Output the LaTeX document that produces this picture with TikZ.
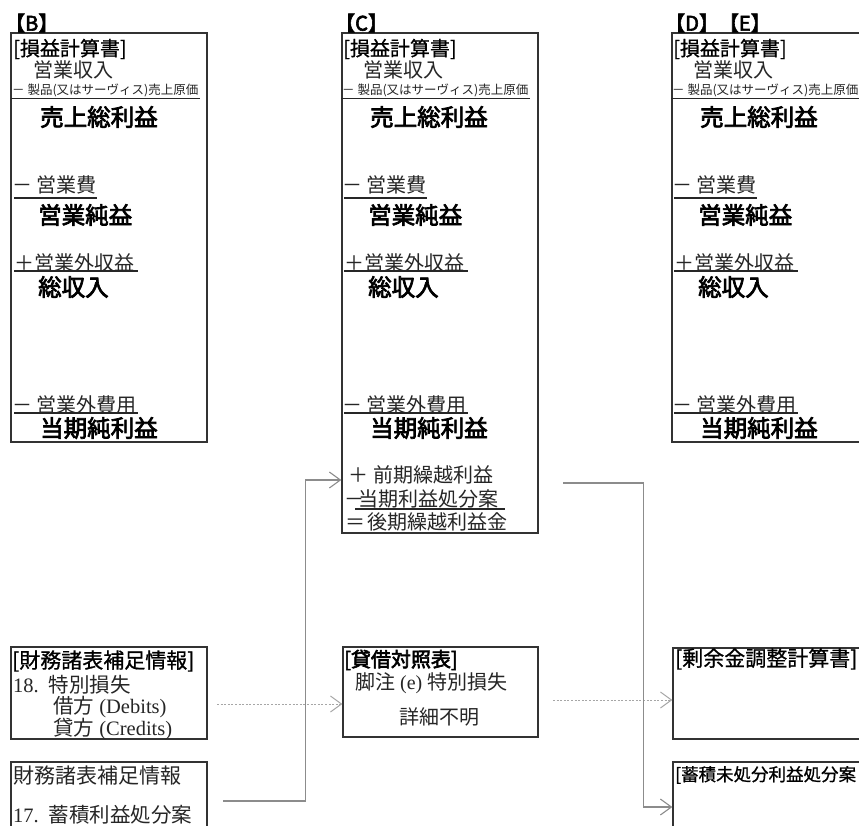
\documentclass[tikz,border=0pt]{standalone}
\usepackage{fontspec}
\setmainfont{Liberation Serif}
\newfontfamily\jp{Noto Sans CJK JP}
\newfontfamily\jpb{Noto Sans CJK JP}[FakeBold=3]
\newfontfamily\jpm{Noto Sans CJK JP}[FakeBold=0.8]
\usetikzlibrary{arrows.meta,calc}
\begin{document}
\begin{tikzpicture}[x=1pt,y=-1pt,
  frame/.style={draw=black!80, line width=1.4pt, rectangle, inner sep=0pt},
  txt/.style={anchor=west, inner sep=0pt, text=black!85, font=\jp\fontsize{20}{24}\selectfont},
  big/.style={txt, text=black, font=\jpb\fontsize{23.5}{28}\selectfont},
  head/.style={txt, text=black, font=\jpm\fontsize{20}{24}\selectfont},
  smalltxt/.style={txt, font=\jp\fontsize{12.5}{15}\selectfont},
  ul/.style={draw=black!85, line width=1.8pt},
  ulthin/.style={draw=black!85, line width=0.9pt},
  conn/.style={draw=black!45, line width=1.1pt, -{Straight Barb[length=11pt,width=16pt,line width=1.1pt]}},
  dconn/.style={draw=black!35, line width=1pt, dash pattern=on 2pt off 1.6pt, -{Straight Barb[length=11pt,width=16pt,line width=1pt]}}
]
\clip (0,0) rectangle (859,826);
\fill[white] (0,0) rectangle (859,826);

% frames
\node[frame, minimum width=196pt, minimum height=409pt] (boxB) at (109,237.5) {};
\node[frame, minimum width=196pt, minimum height=500pt] (boxC) at (440,283) {};
\node[frame, minimum width=196pt, minimum height=409pt] (boxD) at (770,237.5) {};
\node[frame, minimum width=196pt, minimum height=92pt] (boxF1) at (109,693) {};
\node[frame, minimum width=196pt, minimum height=98pt] (boxF2) at (109,811) {};
\node[frame, minimum width=195pt, minimum height=90pt] (boxBS) at (440.5,692) {};
\node[frame, minimum width=197pt, minimum height=91pt] (boxR1) at (771.5,693.5) {};
\node[frame, minimum width=197pt, minimum height=98pt] (boxR2) at (771.5,811) {};

% income statements
\foreach \dx/\p/\lab in {0/B/{【B】}, 330/C/{【C】}, 660/D/{【D】【E】}}{
  \node[head, font=\jpb\fontsize{20}{24}\selectfont] (\p-lab) at (\dx+5,23) {\lab};
  \node[head] (\p-title) at (\dx+13,49) {[損益計算書]};
  \node[txt] (\p-rev) at (\dx+33,70) {営業収入};
  \node[smalltxt] (\p-cogs) at (\dx+12,90) {－ 製品(又はサーヴィス)売上原価};
  \draw[ulthin] (\dx+11,98) -- (\dx+200,98);
  \node[big] (\p-gross) at (\dx+40,117) {売上総利益};
  \node[txt] (\p-opex) at (\dx+12,185) {－\hspace{4pt}営業費};
  \draw[ul] (\dx+14,198) -- (\dx+97,198);
  \node[big] (\p-opinc) at (\dx+38,215) {営業純益};
  \node[txt] (\p-nonrev) at (\dx+14,263) {＋営業外収益};
  \draw[ul] (\dx+14,271) -- (\dx+138,271);
  \node[big] (\p-total) at (\dx+38,287) {総収入};
  \node[txt] (\p-nonexp) at (\dx+12,405) {－\hspace{4pt}営業外費用};
  \draw[ul] (\dx+14,413) -- (\dx+138,413);
  \node[big] (\p-net) at (\dx+40,428) {当期純利益};
}

% extra lines of C
\node[txt] (C-carry) at (348,475) {＋\hspace{5pt}前期繰越利益};
\node[txt] (C-appr) at (344,499) {－\hspace{-6pt}当期利益処分案};
\draw[ul] (355,509) -- (505,509);
\node[txt] (C-ret) at (345,522) {＝\hspace{2pt}後期繰越利益金};

% supplementary info boxes
\node[head, font=\jpm\fontsize{21}{25}\selectfont] (F1-title) at (12,661) {[財務諸表補足情報]};
\node[txt, font=\fontsize{20.5}{24}\selectfont] (F1-a) at (13,685) {18.\hspace{10pt}{\jp 特別損失}};
\node[txt, font=\fontsize{20.5}{24}\selectfont] (F1-b) at (53,707) {{\jp 借方} (Debits)};
\node[txt, font=\fontsize{20.5}{24}\selectfont] (F1-c) at (53,729) {{\jp 貸方} (Credits)};
\node[txt, font=\jp\fontsize{21}{25}\selectfont] (F2-title) at (13,776) {財務諸表補足情報};
\node[txt, font=\fontsize{20.5}{24}\selectfont] (F2-a) at (13,815) {17.\hspace{10pt}{\jp 蓄積利益処分案}};

% balance sheet
\node[head, font=\jpb\fontsize{20}{24}\selectfont] (BS-title) at (344,660) {[貸借対照表]};
\node[txt, font=\fontsize{20}{24}\selectfont] (BS-a) at (355,683) {{\jp 脚注} (e) {\jp 特別損失}};
\node[txt, anchor=center] (BS-b) at (439,717) {詳細不明};

% right boxes
\node[head, font=\jpm\fontsize{21}{25}\selectfont] (R1-title) at (675,659) {[剰余金調整計算書]};
\node[head, font=\jpm\fontsize{17.5}{21}\selectfont] (R2-title) at (675,775) {[蓄積未処分利益処分案};

% connector coordinates
\coordinate (y480) at (0,480);
\coordinate (y704) at (0,704);
\coordinate (y700) at (0,700);
\coordinate (y807) at (0,807);
\coordinate (f2out) at (223,801);
\coordinate (cout) at (563,483);
\coordinate (f1out) at (217,704);
\coordinate (bsout) at (553,700);

\draw[conn] (f2out) -| ([xshift=-36pt]boxC.west |- y480) -- (boxC.west |- y480);
\draw[dconn] (f1out) -- (boxBS.west |- y704);
\draw[dconn] (bsout) -- (boxR1.west |- y700);
\draw[conn] (cout) -| ([xshift=-29pt]boxR2.west |- y807) -- (boxR2.west |- y807);
\end{tikzpicture}
\end{document}
